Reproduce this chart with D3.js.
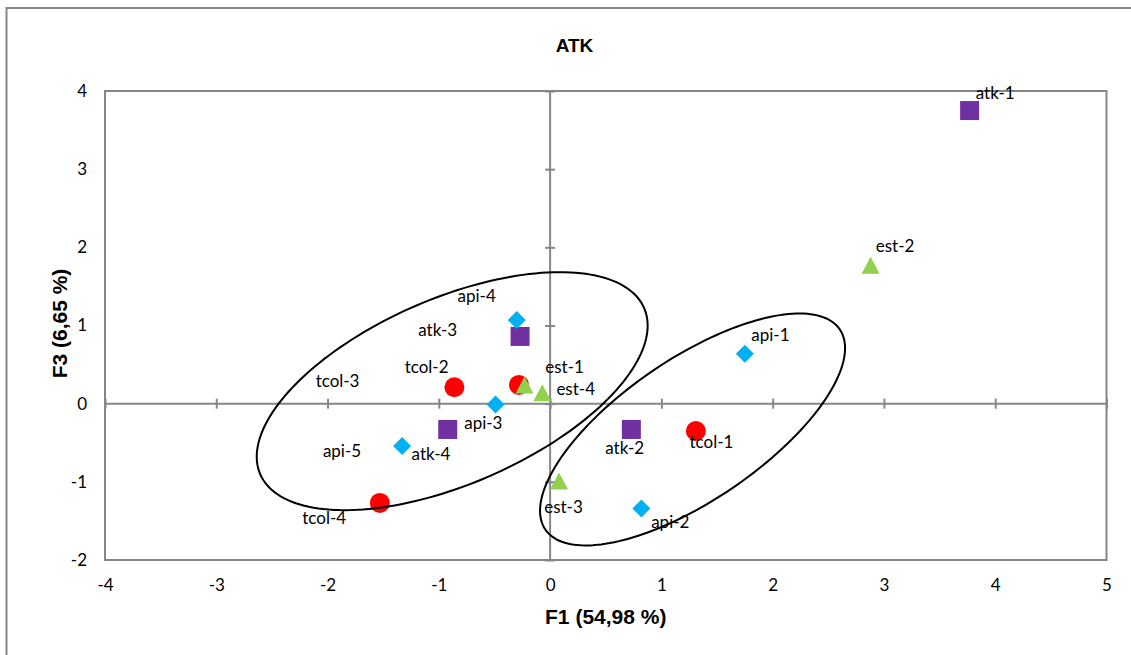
<!DOCTYPE html>

<head>
  <meta charset="utf-8">
  <title> ATK </title>
  <script src="https://d3js.org/d3.v7.min.js"></script>
  <style type="text/css">
    body {margin: 0; background: #fff;}
    .tickText {font-family: 'Lato', 'Open Sans', sans-serif; font-size: 17px; fill: #000;}
    .pointLabel {font-family: 'Lato', 'Open Sans', sans-serif; font-size: 17px; fill: #000;}
    .titleText {font-family: 'Liberation Sans', Arial, sans-serif; font-weight: bold; fill: #000;}
  </style>
</head>

<body>
  <div id="viz"></div>
</body>

<script type="text/javascript">

  const TITLE = "ATK";
  const XTITLE = "F1 (54,98 %)";
  const YTITLE = "F3 (6,65 %)";

  const xTicks = [-4, -3, -2, -1, 0, 1, 2, 3, 4, 5];
  const yTicks = [-2, -1, 0, 1, 2, 3, 4];

  // observations (F1, F3)
  const names = ["atk-1", "atk-2", "atk-3", "atk-4",
    "api-1", "api-2", "api-3", "api-4", "api-5",
    "tcol-1", "tcol-2", "tcol-3", "tcol-4",
    "est-1", "est-2", "est-3", "est-4"];
  const f1 = [3.77, 0.73, -0.27, -0.92,
    1.75, 0.82, -0.49, -0.30, -1.33,
    1.31, -0.86, -0.28, -1.53,
    -0.23, 2.88, 0.08, -0.07];
  const f3 = [3.75, -0.33, 0.86, -0.33,
    0.64, -1.34, -0.01, 1.07, -0.54,
    -0.35, 0.21, 0.24, -1.27,
    0.24, 1.77, -0.99, 0.14];

  // where the labels sit (same units as the axes)
  const labelF1 = [4.00, 0.67, -1.01, -1.07,
    1.98, 1.08, -0.60, -0.66, -1.87,
    1.45, -1.11, -1.91, -2.03,
    0.13, 3.10, 0.12, 0.23];
  const labelF3 = [3.98, -0.56, 0.95, -0.64,
    0.89, -1.51, -0.24, 1.39, -0.60,
    -0.49, 0.47, 0.29, -1.46,
    0.48, 2.02, -1.32, 0.19];

  // groups drawn by hand: centre, half major axis, half minor axis
  const ellipseCentre = [[-0.88, 0.16], [1.28, -0.33]];
  const ellipseMajor = [[1.725, 1.063], [1.323, 1.280]];
  const ellipseMinor = [[-0.331, 1.090], [-0.358, 0.750]];

  const colorSet = {
    "api": "#00b0f0",
    "atk": "#7030a0",
    "tcol": "#ff0000",
    "est": "#92d050",
    "axis": "#868686",
  };

  const FULLW = 1131;
  const FULLH = 655;
  const PLOT = { left: 105, right: 1106.5, top: 91, bottom: 560 };

  const scaleX = d3.scaleLinear().domain([-4, 5]).range([PLOT.left, PLOT.right]);
  const scaleY = d3.scaleLinear().domain([-2, 4]).range([PLOT.bottom, PLOT.top]);

  //plain hyphen, no decimals
  const fmt = function (v) { return String(v); };

  let svg;

  function drawChart() {
    svg = d3.select("#viz")
      .append("svg")
      .attr("width", FULLW)
      .attr("height", FULLH);

    svg.append("rect")
      .attr("width", "100%")
      .attr("height", "100%")
      .attr("fill", "#fff");

    //chart area frame (runs off the right and bottom edges)
    svg.append("rect")
      .attr("x", 6.5)
      .attr("y", 8)
      .attr("width", 1200)
      .attr("height", 700)
      .attr("fill", "none")
      .attr("stroke", colorSet.axis)
      .attr("stroke-width", 2);

    //plot area frame
    svg.append("rect")
      .attr("x", PLOT.left)
      .attr("y", PLOT.top)
      .attr("width", PLOT.right - PLOT.left)
      .attr("height", PLOT.bottom - PLOT.top)
      .attr("fill", "none")
      .attr("stroke", colorSet.axis)
      .attr("stroke-width", 2);

    //zero lines
    svg.append("line")
      .attr("x1", PLOT.left).attr("x2", PLOT.right)
      .attr("y1", scaleY(0)).attr("y2", scaleY(0))
      .attr("stroke", colorSet.axis)
      .attr("stroke-width", 2);
    svg.append("line")
      .attr("x1", scaleX(0)).attr("x2", scaleX(0))
      .attr("y1", PLOT.top).attr("y2", PLOT.bottom)
      .attr("stroke", colorSet.axis)
      .attr("stroke-width", 2);

    //cross tick marks on the zero lines
    const xCross = svg.append("g")
      .attr("transform", "translate(0," + (scaleY(0) - 5) + ")")
      .call(d3.axisBottom(scaleX).tickValues(xTicks).tickSize(10).tickFormat(""));
    const yCross = svg.append("g")
      .attr("transform", "translate(" + (scaleX(0) + 5) + ",0)")
      .call(d3.axisLeft(scaleY).tickValues(yTicks).tickSize(10).tickFormat(""));
    [xCross, yCross].forEach(function (g) {
      g.select(".domain").remove();
      g.selectAll(".tick line").attr("stroke", colorSet.axis).attr("stroke-width", 2);
    });

    //tick labels along the plot frame
    const xLab = svg.append("g")
      .attr("transform", "translate(0," + PLOT.bottom + ")")
      .call(d3.axisBottom(scaleX).tickValues(xTicks).tickFormat(fmt).tickSize(0).tickPadding(19));
    const yLab = svg.append("g")
      .attr("transform", "translate(" + PLOT.left + ",0)")
      .call(d3.axisLeft(scaleY).tickValues(yTicks).tickFormat(fmt).tickSize(0).tickPadding(18));
    [xLab, yLab].forEach(function (g) {
      g.select(".domain").remove();
      g.attr("font-family", null).attr("font-size", null);
      g.selectAll("text").attr("class", "tickText").attr("fill", null);
    });

    //markers
    const points = names.map(function (n, i) {
      return { name: n, group: n.split("-")[0], x: f1[i], y: f3[i], lx: labelF1[i], ly: labelF3[i] };
    });

    const marks = svg.append("g")
      .selectAll("g")
      .data(points)
      .join("g")
      .attr("transform", function (d) { return "translate(" + scaleX(d.x) + "," + scaleY(d.y) + ")"; });

    marks.each(function (d) {
      const g = d3.select(this);
      const c = colorSet[d.group];
      if (d.group === "atk") {
        g.append("rect").attr("x", -9.5).attr("y", -9.5).attr("width", 19).attr("height", 19).attr("fill", c);
      } else if (d.group === "tcol") {
        g.append("circle").attr("r", 10).attr("fill", c);
      } else if (d.group === "api") {
        g.append("polygon").attr("points", "0,-9 9,0 0,9 -9,0").attr("fill", c);
      } else {
        g.append("polygon").attr("points", "0,-8.5 9,8.5 -9,8.5").attr("fill", c);
      }
    });

    //ellipses
    const line = d3.line()
      .x(function (p) { return scaleX(p[0]); })
      .y(function (p) { return scaleY(p[1]); })
      .curve(d3.curveLinearClosed);

    ellipseCentre.forEach(function (c, i) {
      const pts = d3.range(0, 2 * Math.PI, Math.PI / 90).map(function (t) {
        return [
          c[0] + ellipseMajor[i][0] * Math.cos(t) + ellipseMinor[i][0] * Math.sin(t),
          c[1] + ellipseMajor[i][1] * Math.cos(t) + ellipseMinor[i][1] * Math.sin(t)
        ];
      });
      svg.append("path")
        .attr("d", line(pts))
        .attr("fill", "none")
        .attr("stroke", "#000")
        .attr("stroke-width", 2);
    });

    //point labels
    svg.append("g")
      .selectAll("text")
      .data(points)
      .join("text")
      .classed("pointLabel", true)
      .attr("x", function (d) { return scaleX(d.lx); })
      .attr("y", function (d) { return scaleY(d.ly); })
      .attr("text-anchor", "middle")
      .attr("dominant-baseline", "central")
      .text(function (d) { return d.name; });

    //titles
    svg.append("text")
      .classed("titleText", true)
      .attr("x", 574.5)
      .attr("y", 51.5)
      .attr("text-anchor", "middle")
      .style("font-size", "19px")
      .text(TITLE);

    svg.append("text")
      .classed("titleText", true)
      .attr("x", (PLOT.left + PLOT.right) / 2)
      .attr("y", 623.5)
      .attr("text-anchor", "middle")
      .style("font-size", "21px")
      .text(XTITLE);

    svg.append("text")
      .classed("titleText", true)
      .attr("transform", "translate(66.5," + ((PLOT.top + PLOT.bottom) / 2 - 2) + ") rotate(-90)")
      .attr("text-anchor", "middle")
      .style("font-size", "21px")
      .text(YTITLE);
  }

  drawChart();

</script>

</html>
